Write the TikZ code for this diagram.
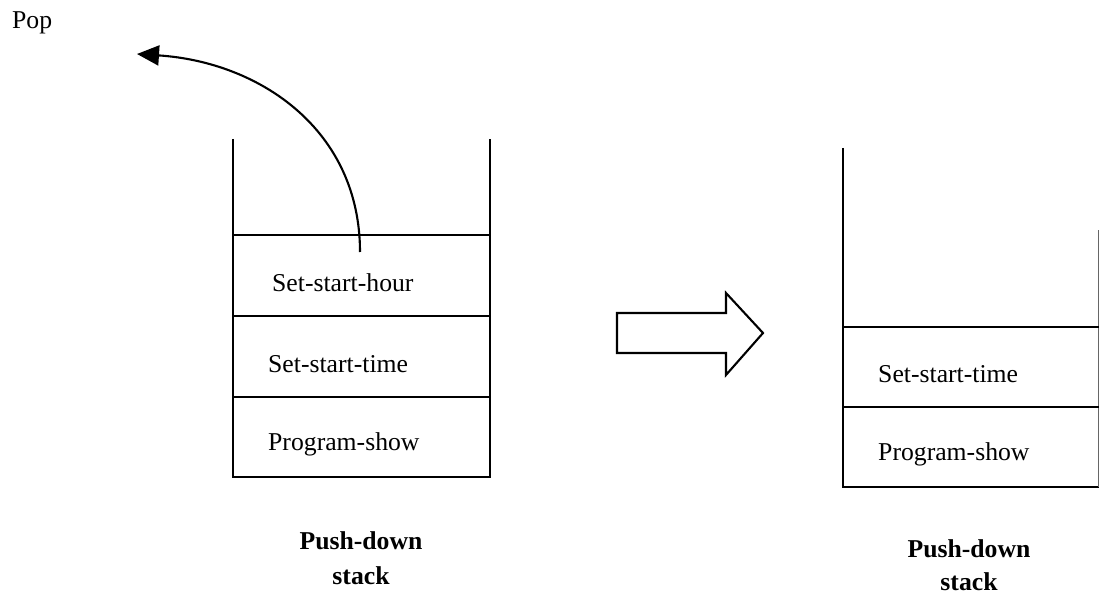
\documentclass[tikz,border=0pt]{standalone}
\usepackage{fontspec}
\setmainfont{Liberation Serif}
\usetikzlibrary{arrows.meta}
\begin{document}
\begin{tikzpicture}[x=1pt,y=-1pt,
  wall/.style={line width=2.1pt},
  lbl/.style={anchor=base west,inner sep=0pt,font=\fontsize{25.7}{30}\selectfont},
  captext/.style={anchor=base,inner sep=0pt,font=\fontsize{25.7}{30}\selectfont\bfseries},
  bigarrow/.style={line width=2.1pt,line join=miter}]
\useasboundingbox (0,0) rectangle (1100,596);
% left stack
\draw[wall] (233,139) -- (233,477) -- (490,477) -- (490,139);
\draw[wall] (233,235) -- (490,235);
\draw[wall] (233,316) -- (490,316);
\draw[wall] (233,397) -- (490,397);
\node[lbl] (l1) at (272,291) {Set-start-hour};
\node[lbl] (l2) at (268,372) {Set-start-time};
\node[lbl] (l3) at (268,450) {Program-show};
\node[captext] (c1) at (361,549) {Push-down};
\node[captext] (c2) at (361,584) {stack};
% pop arrow
\node[lbl] (pop) at (12,29) {Pop};
\coordinate (ps) at (360,252);
\coordinate (pe) at (137,54);
\draw[line width=2.1pt,-{Triangle[length=22pt,width=20pt]}] (ps) .. controls (360,130) and (260,62) .. (pe);
% big arrow
\draw[bigarrow] (617,313) -- (726,313) -- (726,293) -- (763,333) -- (726,375) -- (726,353) -- (617,353) -- cycle;
% right stack
\draw[wall] (843,148) -- (843,487) -- (1099,487);
\draw[line width=1.2pt,black!60] (1098.8,230) -- (1098.8,487);
\draw[wall] (843,327) -- (1099,327);
\draw[wall] (843,407) -- (1099,407);
\node[lbl] (r1) at (878,382) {Set-start-time};
\node[lbl] (r2) at (878,460) {Program-show};
\node[captext] (c3) at (969,557) {Push-down};
\node[captext] (c4) at (969,590) {stack};
\end{tikzpicture}
\end{document}
